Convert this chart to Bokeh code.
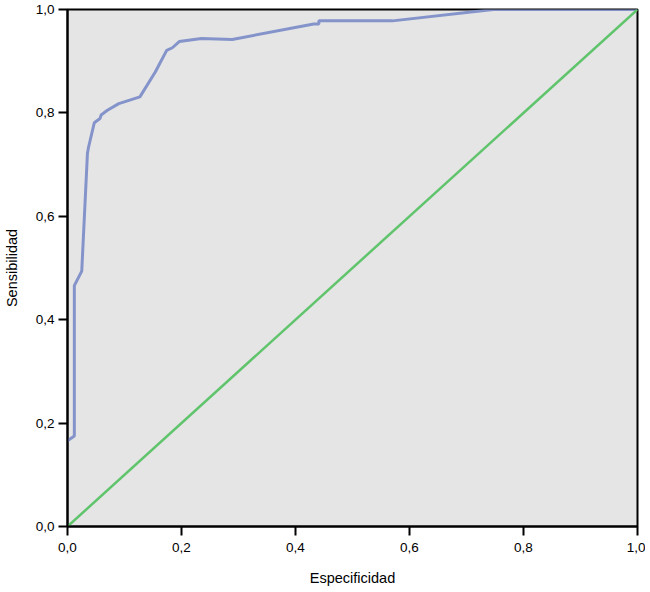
from bokeh.plotting import figure
from bokeh.models import FixedTicker, Range1d
from bokeh.embed import file_html
from bokeh.resources import INLINE

# ROC curve: 1 - specificity (x) vs sensitivity (y)
roc_x = [0.0, 0.012, 0.012, 0.025, 0.035, 0.037, 0.047, 0.057, 0.059, 0.070,
         0.090, 0.127, 0.154, 0.174, 0.184, 0.196, 0.235, 0.289, 0.432, 0.441,
         0.441, 0.570, 0.747, 1.0]
roc_y = [0.166, 0.175, 0.466, 0.494, 0.722, 0.734, 0.781, 0.789, 0.796, 0.805,
         0.818, 0.831, 0.879, 0.921, 0.926, 0.938, 0.944, 0.942, 0.972, 0.972,
         0.978, 0.978, 1.0, 1.0]
ref_x = [0.0, 1.0]
ref_y = [0.0, 1.0]

tick_values = [0.0, 0.2, 0.4, 0.6, 0.8, 1.0]
tick_labels = ["0,0", "0,2", "0,4", "0,6", "0,8", "1,0"]

FONT = "Liberation Sans"

p = figure(width=645, height=590, output_backend="svg", toolbar_location=None,
           x_range=Range1d(0, 1), y_range=Range1d(0, 1),
           min_border_left=67, min_border_right=8, min_border_top=9, min_border_bottom=64)

p.background_fill_color = "#e5e5e5"
p.border_fill_color = "white"
p.outline_line_color = "black"
p.outline_line_width = 2
p.xgrid.visible = False
p.ygrid.visible = False

p.line(roc_x, roc_y, line_color="#8494cb", line_width=3)
p.line(ref_x, ref_y, line_color="#5fc46b", line_width=2.5)

overrides = {v: l for v, l in zip(tick_values, tick_labels)}
for ax in (p.xaxis[0], p.yaxis[0]):
    ax.ticker = FixedTicker(ticks=tick_values)
    ax.major_label_overrides = overrides
    ax.axis_line_color = "black"
    ax.axis_line_width = 2
    ax.major_tick_line_color = "black"
    ax.major_tick_line_width = 2
    ax.major_tick_out = 9
    ax.major_tick_in = 0
    ax.minor_tick_out = 0
    ax.minor_tick_in = 0
    ax.major_label_text_font = FONT
    ax.major_label_text_font_size = "13.5px"
    ax.major_label_text_color = "black"
    ax.axis_label_text_font = FONT
    ax.axis_label_text_font_size = "14.5px"
    ax.axis_label_text_font_style = "normal"
    ax.axis_label_text_color = "black"

p.xaxis.axis_label = "Especificidad"
p.yaxis.axis_label = "Sensibilidad"
p.xaxis.major_label_standoff = 7
p.xaxis.axis_label_standoff = 15
p.yaxis.major_label_standoff = 4
p.yaxis.axis_label_standoff = 13

open("out.html", "w").write(file_html(p, INLINE))
